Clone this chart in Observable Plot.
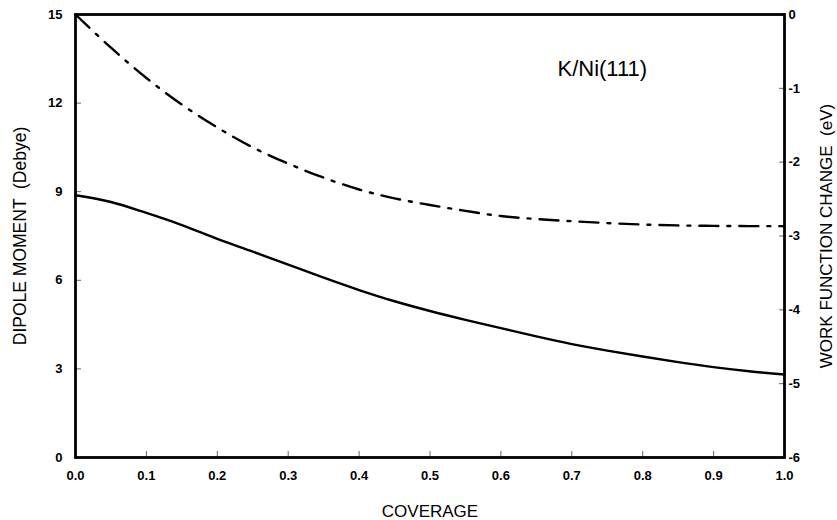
<!DOCTYPE html>
<html><head><meta charset="utf-8">
<script src="https://cdn.jsdelivr.net/npm/d3@7"></script>
<script src="https://cdn.jsdelivr.net/npm/@observablehq/plot@0.6"></script>
<style>
html,body{margin:0;padding:0;background:#fff;}
svg text{white-space:pre;}
</style></head><body><div id="chart"></div>
<script>
const coverage = [0,0.05,0.1,0.15,0.2,0.25,0.3,0.35,0.4,0.45,0.5,0.55,0.6,0.65,0.7,0.75,0.8,0.85,0.9,0.95,1.0];
const dipoleMoment = [8.88,8.65,8.28,7.87,7.40,6.97,6.53,6.09,5.67,5.29,4.96,4.66,4.38,4.10,3.84,3.62,3.42,3.23,3.06,2.92,2.81];
const workFunctionChange = [0,-0.45,-0.86,-1.22,-1.53,-1.80,-2.02,-2.21,-2.37,-2.49,-2.58,-2.66,-2.73,-2.77,-2.80,-2.825,-2.845,-2.857,-2.863,-2.866,-2.867];
const xTicks = [0,0.1,0.2,0.3,0.4,0.5,0.6,0.7,0.8,0.9,1.0];
const leftTicks = [0,3,6,9,12,15];
const rightTicks = [0,-1,-2,-3,-4,-5,-6];
const annotation = [{coverage: 0.743, dipole: 13.17, text: "K/Ni(111)"}];
const xTitle = "COVERAGE";
const leftTitle = "DIPOLE MOMENT  (Debye)";
const rightTitle = "WORK FUNCTION CHANGE  (eV)";

// right axis (eV) shares the left scale: 0 eV <-> 15 D, -6 eV <-> 0 D
const evToLeft = v => 15 + 2.5 * v;
const leftToEv = d => Math.round((d - 15) / 2.5);

const rows = coverage.map((c, i) => ({coverage: c, dipole: dipoleMoment[i], wf: workFunctionChange[i]}));

const font = "'Liberation Sans', Arial, Helvetica, sans-serif";

const chart = Plot.plot({
  width: 837, height: 520,
  marginLeft: 75, marginRight: 53, marginTop: 14, marginBottom: 63,
  style: {fontFamily: font, background: "#fff", color: "#000"},
  x: {domain: [0, 1]},
  y: {domain: [0, 15]},
  marks: [
    // tick labels
    Plot.axisX({ticks: xTicks, tickSize: 0, tickPadding: 13, tickFormat: d3.format(".1f"), fontSize: 13, fontWeight: "bold", label: null}),
    Plot.axisY({anchor: "left", ticks: leftTicks, tickSize: 0, tickPadding: 13, tickFormat: d => String(d), fontSize: 13, fontWeight: "bold", label: null}),
    Plot.axisY({anchor: "right", ticks: rightTicks.map(evToLeft), tickSize: 0, tickPadding: 4, tickFormat: d => String(leftToEv(d)), fontSize: 13, fontWeight: "bold", label: null}),
    // inward ticks
    Plot.axisX({ticks: xTicks, tickSize: -6, fill: "none", stroke: "#666", label: null}),
    Plot.axisY({anchor: "left", ticks: leftTicks, tickSize: -6, fill: "none", stroke: "#666", label: null}),
    Plot.axisY({anchor: "right", ticks: rightTicks.map(evToLeft), tickSize: -6, fill: "none", stroke: "#666", label: null}),
    // curves
    Plot.line(rows, {x: "coverage", y: "dipole", stroke: "#000", strokeWidth: 2.4, curve: "monotone-x"}),
    Plot.line(rows, {x: "coverage", y: d => evToLeft(d.wf), stroke: "#000", strokeWidth: 2.4, curve: "monotone-x", strokeDasharray: "19,9,3,9"}),
    Plot.frame({stroke: "#000", strokeWidth: 2.8}),
    // annotation
    Plot.text(annotation, {x: "coverage", y: "dipole", text: "text", fontSize: 22, fill: "#000"}),
    // axis titles
    Plot.text([xTitle], {frameAnchor: "bottom", textAnchor: "middle", lineAnchor: "middle", dy: 54, fontSize: 17, fill: "#000"}),
    Plot.text([leftTitle], {frameAnchor: "left", textAnchor: "middle", lineAnchor: "middle", dx: -55, rotate: -90, fontSize: 17.5, fill: "#000"}),
    Plot.text([rightTitle], {frameAnchor: "right", textAnchor: "middle", lineAnchor: "middle", dx: 42, rotate: -90, fontSize: 17, fill: "#000"})
  ]
});
document.getElementById("chart").appendChild(chart);
</script></body></html>
